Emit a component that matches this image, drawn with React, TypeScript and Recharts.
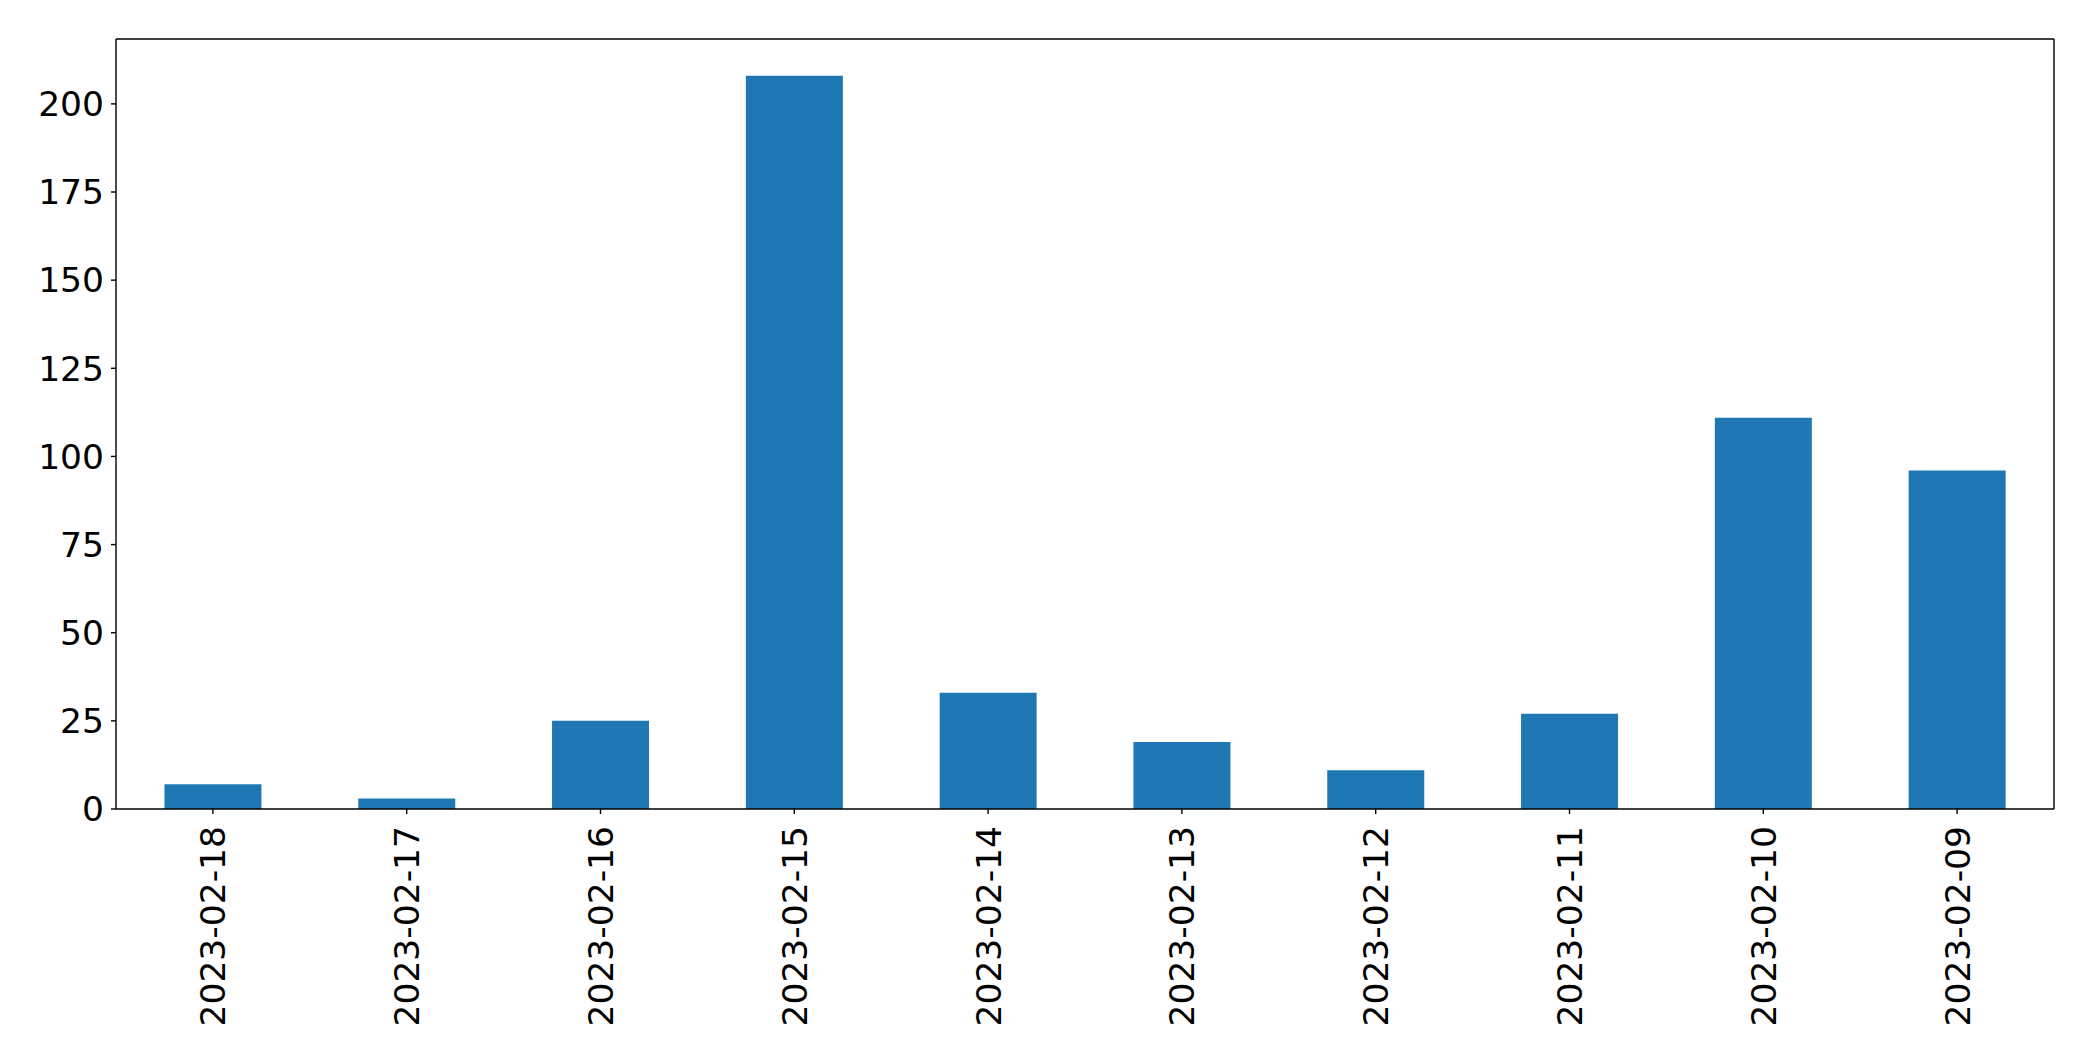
import React from 'react'
import { BarChart, Bar, XAxis, YAxis } from 'recharts'

const dates = [
  '2023-02-18',
  '2023-02-17',
  '2023-02-16',
  '2023-02-15',
  '2023-02-14',
  '2023-02-13',
  '2023-02-12',
  '2023-02-11',
  '2023-02-10',
  '2023-02-09',
]
const counts = [7, 3, 25, 208, 33, 19, 11, 27, 111, 96]
const yTicks = [0, 25, 50, 75, 100, 125, 150, 175, 200]

const data = dates.map((d, i) => ({ date: d, count: counts[i] }))

const FONT = 'DejaVu Sans, sans-serif'
const FS = 34.5

function DateTick(props: any) {
  const { x, y, payload } = props
  return (
    <g transform={`translate(${x},${y})`}>
      <text
        transform="rotate(-90)"
        x={-12}
        y={0}
        dy="0.36em"
        textAnchor="end"
        fontFamily={FONT}
        fontSize={FS}
        fill="#000"
      >
        {payload.value}
      </text>
    </g>
  )
}

const line = { stroke: '#000', strokeWidth: 1.4 }

export default function App() {
  return (
    <div style={{ width: 2093, height: 1061, background: '#fff' }}>
      <style>{`body{margin:0}`}</style>
      <BarChart
        width={2093}
        height={1061}
        data={data}
        margin={{ top: 38, right: 38, left: 0, bottom: 0 }}
        barCategoryGap="25%"
      >
        <XAxis
          dataKey="date"
          height={252}
          interval={0}
          tickSize={5}
          tickMargin={0}
          tick={<DateTick />}
          axisLine={line}
          tickLine={line}
        />
        <XAxis
          xAxisId="top"
          dataKey="date"
          orientation="top"
          height={1}
          tick={false}
          tickLine={false}
          axisLine={line}
        />
        <YAxis
          width={116}
          domain={[0, 218.4]}
          ticks={yTicks}
          interval={0}
          allowDataOverflow
          tickSize={5}
          tickMargin={7}
          tick={{ fontFamily: FONT, fontSize: FS, fill: '#000' }}
          axisLine={line}
          tickLine={line}
        />
        <YAxis
          yAxisId="right"
          orientation="right"
          width={1}
          domain={[0, 218.4]}
          tick={false}
          tickLine={false}
          axisLine={line}
        />
        <Bar dataKey="count" fill="#1f77b4" isAnimationActive={false} />
      </BarChart>
    </div>
  )
}
